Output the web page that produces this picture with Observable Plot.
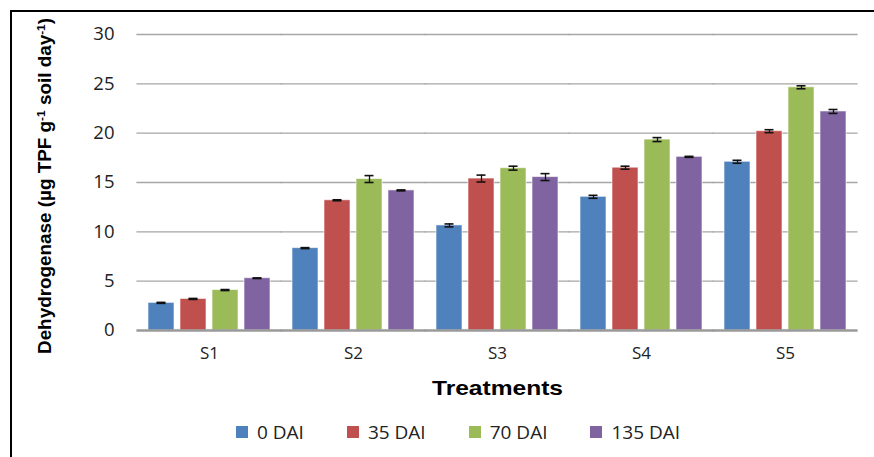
<!DOCTYPE html>
<html>
<head>
<meta charset="utf-8">
<script src="https://cdn.jsdelivr.net/npm/d3@7"></script>
<script src="https://cdn.jsdelivr.net/npm/@observablehq/plot@0.6"></script>
<style>
  html, body { margin: 0; padding: 0; background: #fff; }
  #wrap { position: relative; width: 874px; height: 457px; overflow: hidden; font-family: "Open Sans", "Liberation Sans", sans-serif; }
  #frame { position: absolute; left: 10px; top: 10px; width: 880px; height: 460px; border-left: 2px solid #000; border-top: 2px solid #000; box-sizing: border-box; pointer-events: none; }
  #chart svg { display: block; }
  #legend { position: absolute; left: 236px; top: 419px; display: flex; font-size: 19px; color: #222; }
  .item { display: flex; align-items: center; margin-right: 43px; }
  .sw { width: 12px; height: 12px; margin-right: 9px; }
</style>
</head>
<body>
<div id="wrap">
  <div id="chart"></div>
  <div id="legend"></div>
  <div id="frame"></div>
</div>
<script>
const treatments = ["S1", "S2", "S3", "S4", "S5"];
const series = ["0 DAI", "35 DAI", "70 DAI", "135 DAI"];
const colors = ["#4F81BD", "#C0504D", "#9BBB59", "#8064A2"];
const yTicks = [0, 5, 10, 15, 20, 25, 30];
const values = {
  "0 DAI":   [2.8, 8.35, 10.65, 13.55, 17.1],
  "35 DAI":  [3.2, 13.2, 15.4, 16.5, 20.2],
  "70 DAI":  [4.1, 15.35, 16.45, 19.35, 24.65],
  "135 DAI": [5.3, 14.2, 15.55, 17.6, 22.2]
};
const errors = {
  "0 DAI":   [0.05, 0.05, 0.15, 0.15, 0.15],
  "35 DAI":  [0.05, 0.05, 0.35, 0.15, 0.15],
  "70 DAI":  [0.05, 0.35, 0.2, 0.2, 0.15],
  "135 DAI": [0.03, 0.05, 0.35, 0.05, 0.2]
};

const data = [];
treatments.forEach((t, i) => {
  series.forEach(s => {
    data.push({ treatment: t, series: s, value: values[s][i], err: errors[s][i] });
  });
});

// half of the gap between facets (extends gridlines across gaps)
const W = 874, ML = 136, MR = 17;
const step = (W - ML - MR) / treatments.length;
const ext = -(0.07 * step) - 0.5;

const plot = Plot.plot({
  width: W,
  height: 400,
  marginLeft: ML,
  marginRight: MR,
  marginTop: 34,
  marginBottom: 70,
  style: { fontFamily: "'Open Sans', 'Liberation Sans', sans-serif", background: "#fff" },
  fx: { domain: treatments, paddingInner: 0.14, paddingOuter: 0.07, label: null },
  x: { domain: series, paddingInner: 0.2, paddingOuter: 0, axis: null },
  y: { domain: [0, 30], ticks: yTicks, label: null },
  color: { domain: series, range: colors },
  marks: [
    Plot.ruleY(yTicks.filter(d => d > 0), { stroke: "#a6a6a6", strokeWidth: 1.3, insetLeft: ext, insetRight: ext }),
    Plot.axisY({ ticks: yTicks, tickSize: 0, tickPadding: 33, fontSize: 18.5, fill: "#222", label: null }),
    Plot.axisFx({ tickSize: 0, tickPadding: 16, fontSize: 17, fill: "#222",
      label: "Treatments", labelAnchor: "center", labelOffset: 64, anchor: "bottom" }),
    Plot.barY(data, { fx: "treatment", x: "series", y: "value", fill: "series", stroke: "#ffffff", strokeOpacity: 0.6, strokeWidth: 1 }),
    Plot.ruleY([0], { stroke: "#9a9a9a", strokeWidth: 2.5, insetLeft: ext, insetRight: ext }),
    Plot.ruleX(data, { fx: "treatment", x: "series", y1: d => d.value - d.err, y2: d => d.value + d.err, stroke: "#111", strokeWidth: 1.3 }),
    Plot.tickY(data, { fx: "treatment", x: "series", y: d => d.value - d.err, stroke: "#111", strokeWidth: 1.6, insetLeft: 8.5, insetRight: 8.5 }),
    Plot.tickY(data, { fx: "treatment", x: "series", y: d => d.value + d.err, stroke: "#111", strokeWidth: 1.6, insetLeft: 8.5, insetRight: 8.5 })
  ]
});
document.getElementById("chart").appendChild(plot);

// style the x-axis label bold
plot.querySelectorAll("text").forEach(t => {
  if (t.textContent === "Treatments") {
    t.setAttribute("font-weight", "bold");
    t.setAttribute("font-size", "21");
    t.setAttribute("font-family", "'Liberation Sans', Arial, sans-serif");
    t.setAttribute("fill", "#000");
    t.setAttribute("textLength", "131");
    t.setAttribute("lengthAdjust", "spacingAndGlyphs");
  }
});

// y-axis title as real rotated text in the svg
const svgNS = "http://www.w3.org/2000/svg";
const yl = document.createElementNS(svgNS, "text");
yl.setAttribute("transform", "translate(51,186) rotate(-90)");
yl.setAttribute("text-anchor", "middle");
yl.setAttribute("font-family", "'Liberation Sans', Arial, sans-serif");
yl.setAttribute("font-weight", "bold");
yl.setAttribute("font-size", "17.5");
yl.setAttribute("fill", "#000");
yl.setAttribute("textLength", "336");
yl.setAttribute("lengthAdjust", "spacingAndGlyphs");
const parts = [["Dehydrogenase (µg TPF g", 0], ["-1", 1], [" soil day", 0], ["-1", 1], [")", 0]];
parts.forEach(([txt, sup]) => {
  const ts = document.createElementNS(svgNS, "tspan");
  ts.textContent = txt;
  if (sup) { ts.setAttribute("baseline-shift", "super"); ts.setAttribute("font-size", "11"); }
  yl.appendChild(ts);
});
plot.appendChild(yl);

// legend
const lg = document.getElementById("legend");
series.forEach((s, i) => {
  const it = document.createElement("div");
  it.className = "item";
  const sw = document.createElement("div");
  sw.className = "sw";
  sw.style.background = colors[i];
  const lab = document.createElement("span");
  lab.textContent = s;
  it.appendChild(sw);
  it.appendChild(lab);
  lg.appendChild(it);
});
</script>
</body>
</html>
